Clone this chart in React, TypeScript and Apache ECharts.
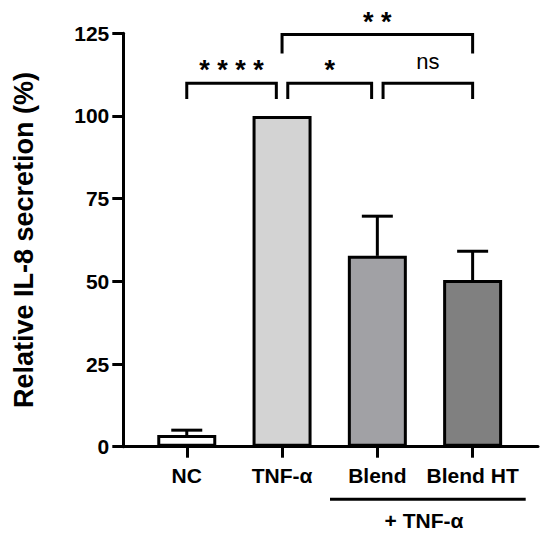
import React, { useEffect, useRef } from "react";
import * as echarts from "echarts";

const categories = ["NC", "TNF-α", "Blend", "Blend HT"];
const meanValues = [3.5, 100, 57.7, 50.4];
const errorTops = [5.0, 100, 69.7, 59.1];
const barColors = ["#ffffff", "#d3d3d3", "#a1a1a5", "#808080"];
const yTickValues = [0, 25, 50, 75, 100, 125];
const bracketFrom = [0, 1.06, 2.06, 1.0];
const bracketTo = [0.94, 1.94, 3.0, 3.0];
const bracketLevel = [109.9, 109.9, 109.9, 124.6];
const bracketLegEnd = [105.1, 105.1, 105.1, 118.9];
const bracketLabels = ["* * * *", "*", "ns", "* *"];
const groupLabel = "+ TNF-α";
const axisTitle = "Relative IL-8 secretion (%)";

const FONT = "'Liberation Sans', Arial, Helvetica, sans-serif";

export default function App() {
  const ref = useRef<HTMLDivElement>(null);

  useEffect(() => {
    if (!ref.current) return;
    const chart = echarts.init(ref.current, null, { renderer: "svg" });
    const catIdx = categories.map((_, i) => i);

    const option: any = {
      animation: false,
      backgroundColor: "#ffffff",
      textStyle: { fontFamily: FONT },
      grid: { left: 123.3, right: 12, top: 33.3, bottom: 89.3, containLabel: false },
      xAxis: {
        type: "value",
        min: -0.666,
        max: 3.686,
        splitLine: { show: false },
        axisLine: { show: true, onZero: false, lineStyle: { color: "#000", width: 3 } },
        axisTick: {
          show: true,
          customValues: catIdx,
          length: 11,
          lineStyle: { color: "#000", width: 3 },
        },
        axisLabel: {
          show: true,
          customValues: catIdx,
          formatter: (v: number) => categories[Math.round(v)] ?? "",
          margin: 18,
          color: "#000",
          fontSize: 21,
          fontWeight: "bold",
          fontFamily: FONT,
        },
      },
      yAxis: {
        type: "value",
        min: 0,
        max: 125,
        interval: 25,
        name: axisTitle,
        nameLocation: "middle",
        nameRotate: 90,
        nameGap: 86,
        nameTextStyle: { color: "#000", fontSize: 27, fontWeight: "bold", fontFamily: FONT },
        splitLine: { show: false },
        axisLine: { show: true, onZero: false, lineStyle: { color: "#000", width: 3 } },
        axisTick: { show: true, length: 11, lineStyle: { color: "#000", width: 3 } },
        axisLabel: {
          margin: 14,
          color: "#000",
          fontSize: 21,
          fontWeight: "bold",
          fontFamily: FONT,
          customValues: yTickValues,
        },
      },
      series: [
        {
          type: "bar",
          barWidth: 59,
          data: meanValues.map((v, i) => ({
            value: [i, v],
            itemStyle: { color: barColors[i], borderColor: "#000", borderWidth: 3 },
          })),
        },
        {
          type: "custom",
          clip: false,
          data: meanValues.map((v, i) => [i, v, errorTops[i]]),
          renderItem: (params: any, api: any) => {
            const x = api.value(0);
            const v = api.value(1);
            const t = api.value(2);
            if (t <= v) return { type: "group", children: [] };
            const pb = api.coord([x, v]);
            const pt = api.coord([x, t]);
            const half = 15.5;
            return {
              type: "group",
              children: [
                {
                  type: "line",
                  shape: { x1: pb[0], y1: pb[1], x2: pt[0], y2: pt[1] },
                  style: { stroke: "#000", lineWidth: 3 },
                },
                {
                  type: "line",
                  shape: { x1: pt[0] - half, y1: pt[1], x2: pt[0] + half, y2: pt[1] },
                  style: { stroke: "#000", lineWidth: 3 },
                },
              ],
            };
          },
        },
        {
          type: "custom",
          clip: false,
          data: bracketFrom.map((f, i) => [f, bracketTo[i], bracketLevel[i], bracketLegEnd[i]]),
          renderItem: (params: any, api: any) => {
            const x1 = api.value(0);
            const x2 = api.value(1);
            const lv = api.value(2);
            const le = api.value(3);
            const p1 = api.coord([x1, lv]);
            const p2 = api.coord([x2, lv]);
            const e = api.coord([x1, le]);
            const label = bracketLabels[params.dataIndex];
            const isNs = label === "ns";
            return {
              type: "group",
              children: [
                {
                  type: "polyline",
                  shape: { points: [[p1[0], e[1]], [p1[0], p1[1]], [p2[0], p2[1]], [p2[0], e[1]]] },
                  style: { stroke: "#000", lineWidth: 3, fill: null, lineJoin: "miter" },
                },
                {
                  type: "text",
                  x: (p1[0] + p2[0]) / 2,
                  y: p1[1] - (isNs ? 21.5 : 13),
                  style: {
                    text: label,
                    fill: "#000",
                    fontFamily: FONT,
                    fontSize: isNs ? 22 : 27,
                    fontWeight: isNs ? "normal" : "bold",
                    textAlign: "center",
                    textVerticalAlign: "middle",
                  },
                },
              ],
            };
          },
        },
      ],
      graphic: [
        {
          type: "line",
          shape: { x1: 330, y1: 499.3, x2: 525.7, y2: 499.3 },
          style: { stroke: "#000", lineWidth: 3 },
        },
        {
          type: "text",
          x: 424,
          y: 520,
          style: {
            text: groupLabel,
            fill: "#000",
            fontFamily: FONT,
            fontSize: 21,
            fontWeight: "bold",
            textAlign: "center",
            textVerticalAlign: "middle",
          },
        },
      ],
    };

    chart.setOption(option);
    return () => chart.dispose();
  }, []);

  return (
    <div
      ref={ref}
      style={{ position: "fixed", left: 0, top: 0, width: 550, height: 536, background: "#fff" }}
    />
  );
}
